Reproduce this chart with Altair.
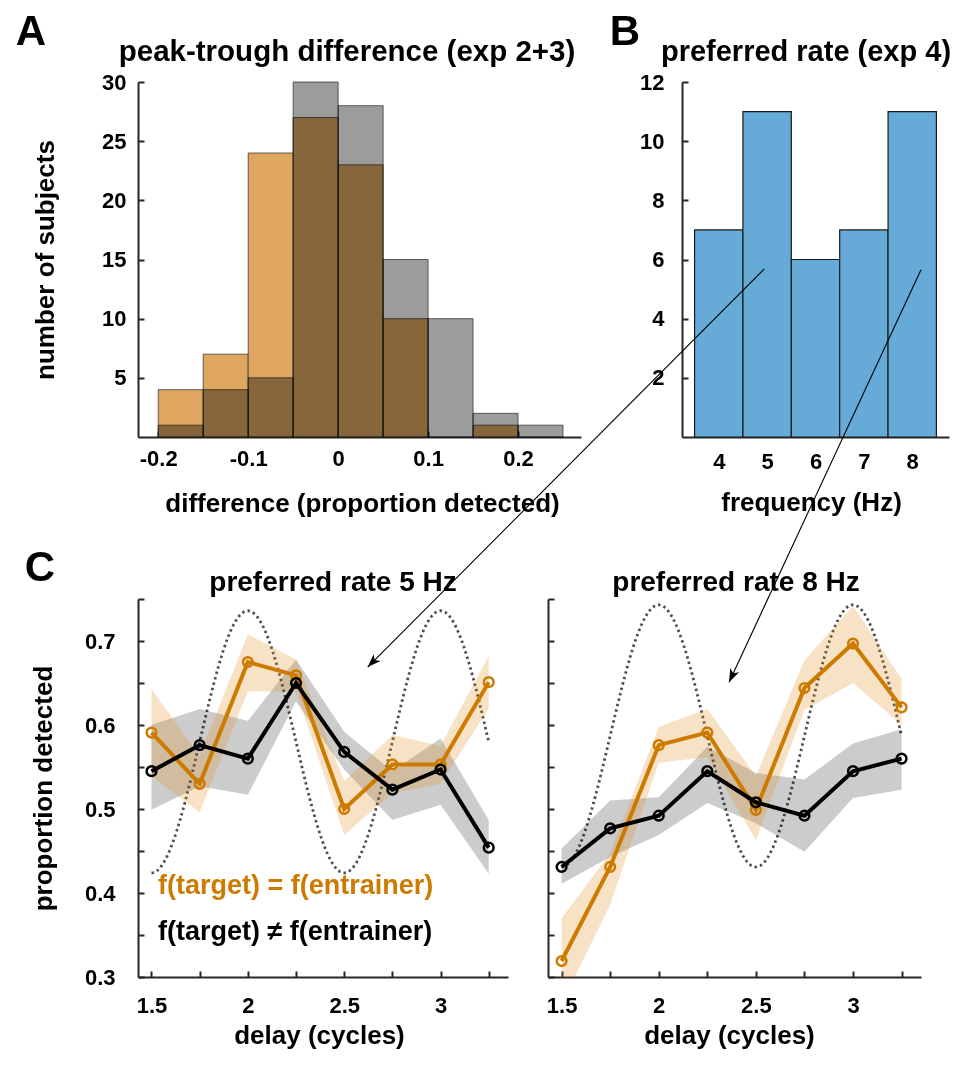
import altair as alt
import pandas as pd

FONT = "Liberation Sans"
AX = "#262626"
ORANGE = "#CC7A00"

# ---------------- Panel A: peak-trough difference (bins of 0.05) ----------------
a_bin_lo = [-0.20, -0.15, -0.10, -0.05, 0.00, 0.05, 0.10, 0.15, 0.20]
a_bin_hi = [-0.15, -0.10, -0.05, 0.00, 0.05, 0.10, 0.15, 0.20, 0.25]
a_count_same = [4, 7, 24, 27, 23, 10, 0, 1, 0]
a_count_other = [1, 4, 5, 30, 28, 15, 10, 2, 1]

# ---------------- Panel B: preferred rate ----------------
b_freq = [4, 5, 6, 7, 8]
b_count = [7, 11, 6, 7, 11]

# ---------------- Panel C: proportion detected vs delay ----------------
c_delay = [1.5, 1.75, 2.0, 2.25, 2.5, 2.75, 3.0, 3.25]

c5_same = [0.591, 0.530, 0.675, 0.659, 0.500, 0.553, 0.553, 0.651]
c5_same_lo = [0.539, 0.496, 0.640, 0.640, 0.469, 0.519, 0.530, 0.620]
c5_same_hi = [0.643, 0.563, 0.708, 0.678, 0.533, 0.588, 0.575, 0.682]
c5_diff = [0.545, 0.576, 0.560, 0.650, 0.568, 0.523, 0.547, 0.454]
c5_diff_lo = [0.499, 0.527, 0.517, 0.628, 0.547, 0.487, 0.505, 0.423]
c5_diff_hi = [0.600, 0.619, 0.605, 0.678, 0.592, 0.545, 0.584, 0.487]

c8_same = [0.319, 0.431, 0.576, 0.591, 0.499, 0.644, 0.697, 0.621]
c8_same_lo = [0.268, 0.386, 0.555, 0.562, 0.463, 0.618, 0.650, 0.600]
c8_same_hi = [0.370, 0.447, 0.598, 0.619, 0.539, 0.677, 0.742, 0.655]
c8_diff = [0.431, 0.477, 0.492, 0.545, 0.508, 0.492, 0.545, 0.560]
c8_diff_lo = [0.411, 0.443, 0.469, 0.507, 0.483, 0.449, 0.513, 0.523]
c8_diff_hi = [0.453, 0.510, 0.514, 0.574, 0.543, 0.535, 0.578, 0.595]

# reference oscillation (dotted), one cycle per unit delay, trough at 1.5
c5_osc_mid, c5_osc_amp = 0.580, 0.156
c8_osc_mid, c8_osc_amp = 0.587, 0.156

# arrows from panel B bars (5 Hz, 8 Hz) into panel C (in panel C data units)
arrow5 = dict(x0=4.680, y0=1.143, x1=2.622, y1=0.669)
arrow8 = dict(x0=3.350, y0=1.142, x1=2.362, y1=0.651)

c_xticks = [1.5, 1.75, 2.0, 2.25, 2.5, 2.75, 3.0, 3.25]
c_yticks = [0.3, 0.35, 0.4, 0.45, 0.5, 0.55, 0.6, 0.65, 0.7, 0.75]

# ---------------- helpers ----------------
def axis(**kw):
    d = dict(
        domainColor=AX, domainWidth=2, tickColor=AX, tickWidth=2,
        tickSize=alt.ExprRef(expr="-6"),
        labelFont=FONT, labelFontSize=22, labelFontWeight="bold", labelColor="black",
        labelFlush=False, labelOverlap=False,
        titleFont=FONT, titleFontSize=26, titleFontWeight="bold", titleColor="black",
        grid=False,
    )
    d.update(kw)
    return alt.Axis(**d)


def text_layer(text, x, y, size, color="black", align="center"):
    return alt.Chart(pd.DataFrame({"t": [text]})).mark_text(
        font=FONT, fontSize=size, fontWeight="bold", color=color,
        align=align, baseline="alphabetic"
    ).encode(x=alt.value(x), y=alt.value(y), text="t:N")


# ---------------- Panel A ----------------
A_W, A_H = 443, 355
dfA = pd.DataFrame({"lo": a_bin_lo, "hi": a_bin_hi,
                    "same": a_count_same, "other": a_count_other})
xA_s = alt.Scale(domain=[-0.2225, 0.27], nice=False, zero=False)
yA_s = alt.Scale(domain=[0, 30], nice=False)
xA_ax = axis(values=[-0.2, -0.1, 0, 0.1, 0.2], labelPadding=17,
             labelExpr="datum.value < 0 ? '-' + format(-datum.value, '~g') : format(datum.value, '~g')",
             titleX=224, titleY=74, titleBaseline="alphabetic")
yA_ax = axis(values=[5, 10, 15, 20, 25, 30], labelPadding=18,
             titleX=-80, titleY=A_H / 2)
XA_T = "difference (proportion detected)"
YA_T = "number of subjects"

barsA_same = alt.Chart(dfA).transform_filter("datum.same > 0").mark_bar(
    fill="#DEA660", stroke="#333333", strokeWidth=1, strokeOpacity=0.75
).encode(
    x=alt.X("lo:Q", scale=xA_s, axis=xA_ax, title=XA_T),
    x2="hi:Q",
    y=alt.Y("same:Q", scale=yA_s, axis=yA_ax, title=YA_T),
    y2=alt.datum(0),
)
barsA_other = alt.Chart(dfA).transform_filter("datum.other > 0").mark_bar(
    fill="#9C9C9C", stroke="#333333", strokeWidth=1, strokeOpacity=0.75,
    blend="multiply"
).encode(
    x=alt.X("lo:Q", scale=xA_s, axis=xA_ax, title=XA_T),
    x2="hi:Q",
    y=alt.Y("other:Q", scale=yA_s, axis=yA_ax, title=YA_T),
    y2=alt.datum(0),
)
panelA = alt.layer(
    barsA_same, barsA_other,
    text_layer("peak-trough difference (exp 2+3)", 209, -21, 29.5),
    text_layer("A", -107, -37, 42),
).properties(width=A_W, height=A_H)

# ---------------- Panel B ----------------
B_W, B_H = 267, 355
dfB = pd.DataFrame({"freq": b_freq, "n": b_count})
xB_s = alt.Scale(domain=[3.24, 8.76], nice=False, zero=False)
yB_s = alt.Scale(domain=[0, 12], nice=False)
xB_ax = axis(values=b_freq, labelPadding=20, titleX=129, titleY=73,
             titleBaseline="alphabetic")
yB_ax = axis(values=[2, 4, 6, 8, 10, 12], labelPadding=24)
barsB = alt.Chart(dfB).transform_calculate(
    lo="datum.freq - 0.5", hi="datum.freq + 0.5"
).mark_bar(fill="#66AAD7", stroke="#1a1a1a", strokeWidth=1.2).encode(
    x=alt.X("lo:Q", scale=xB_s, axis=xB_ax, title="frequency (Hz)"),
    x2="hi:Q",
    y=alt.Y("n:Q", scale=yB_s, axis=yB_ax, title=None),
    y2=alt.datum(0),
)
panelB = alt.layer(
    barsB,
    text_layer("preferred rate (exp 4)", 124, -21, 29),
    text_layer("B", -57, -37, 42),
).properties(width=B_W, height=B_H)

# ---------------- Panel C ----------------
C_H = 378
C_XDOM = [1.43, 3.35]
ARROW_PATH = "M0,0L-0.42,1.15L0,0.85L0.42,1.15Z"


def panel_c(width, same, same_lo, same_hi, diff, diff_lo, diff_hi,
            osc_mid, osc_amp, title, title_x, arrow, arrow_angle, left=True):
    df = pd.DataFrame({"delay": c_delay, "same": same, "same_lo": same_lo,
                       "same_hi": same_hi, "diff": diff, "diff_lo": diff_lo,
                       "diff_hi": diff_hi})
    xs = alt.Scale(domain=C_XDOM, nice=False, zero=False)
    ys = alt.Scale(domain=[0.3, 0.75], nice=False, zero=False)
    xax = axis(values=c_xticks, labelPadding=24,
               labelExpr="round(datum.value * 4) % 2 == 0 ? format(datum.value, '~g') : ''",
               titleX=181, titleY=66, titleBaseline="alphabetic")
    if left:
        yax = axis(values=c_yticks, labelPadding=29,
                   labelExpr="round(datum.value * 100) % 10 == 0 ? format(datum.value, '.1f') : ''",
                   titleX=-82, titleY=C_H / 2)
        ytitle = "proportion detected"
    else:
        yax = axis(values=c_yticks, labels=False)
        ytitle = None
    XT = "delay (cycles)"

    def X(f):
        return alt.X(f"{f}:Q", scale=xs, axis=xax, title=XT)

    def Y(f):
        return alt.Y(f"{f}:Q", scale=ys, axis=yax, title=ytitle)

    base = alt.Chart(df)
    osc = alt.Chart(alt.sequence(1.5, 3.2501, 0.005, as_="d")).transform_calculate(
        osc=f"{osc_mid} - {osc_amp} * cos(2 * PI * (datum.d - 1.5))"
    ).mark_line(color="#4d4d4d", strokeWidth=2.8, strokeDash=[2.4, 3.2]).encode(
        x=X("d"), y=Y("osc"))
    band_diff = base.mark_area(color="#000000", opacity=0.2, clip=True).encode(
        x=X("delay"), y=Y("diff_lo"), y2="diff_hi:Q")
    band_same = base.mark_area(color="#DE8A1C", opacity=0.25, clip=True).encode(
        x=X("delay"), y=Y("same_lo"), y2="same_hi:Q")
    line_same = base.mark_line(color=ORANGE, strokeWidth=4).encode(
        x=X("delay"), y=Y("same"))
    pts_same = base.mark_point(color=ORANGE, filled=False, size=95, strokeWidth=2.5,
                               opacity=1).encode(x=X("delay"), y=Y("same"))
    line_diff = base.mark_line(color="black", strokeWidth=4).encode(
        x=X("delay"), y=Y("diff"))
    pts_diff = base.mark_point(color="black", filled=False, size=95, strokeWidth=2.5,
                               opacity=1).encode(x=X("delay"), y=Y("diff"))
    adf = pd.DataFrame({k: [v] for k, v in arrow.items()})
    arr_line = alt.Chart(adf).mark_rule(color="black", strokeWidth=1.1).encode(
        x=X("x0"), y=Y("y0"), x2="x1:Q", y2="y1:Q")
    arr_head = alt.Chart(adf).mark_point(
        shape=ARROW_PATH, filled=True, color="black", size=530, angle=arrow_angle,
        opacity=1, strokeWidth=0
    ).encode(x=X("x1"), y=Y("y1"))

    layers = [osc, band_diff, band_same, line_same, pts_same, line_diff, pts_diff,
              text_layer(title, title_x, -8, 28)]
    if left:
        layers += [
            text_layer("f(target) = f(entrainer)", 20, 295, 27, color=ORANGE, align="left"),
            text_layer("f(target) \u2260 f(entrainer)", 20, 341, 27, align="left"),
            text_layer("C", -98, -18, 42),
        ]
    layers += [arr_line, arr_head]
    return alt.layer(*layers).properties(width=width, height=C_H)


panelC1 = panel_c(370, c5_same, c5_same_lo, c5_same_hi, c5_diff, c5_diff_lo,
                  c5_diff_hi, c5_osc_mid, c5_osc_amp, "preferred rate 5 Hz", 195,
                  arrow5, 225, left=True)
panelC2 = panel_c(373, c8_same, c8_same_lo, c8_same_hi, c8_diff, c8_diff_lo,
                  c8_diff_hi, c8_osc_mid, c8_osc_amp, "preferred rate 8 Hz", 188,
                  arrow8, 205, left=False)

row1 = alt.hconcat(panelA, panelB, spacing=101, bounds="flush")
row2 = alt.hconcat(panelC1, panelC2, spacing=40, bounds="flush")

chart = alt.vconcat(row1, row2, spacing=517, bounds="flush").properties(
    padding={"left": 7, "top": 3, "right": 2, "bottom": 2},
    background="white",
).configure_view(strokeWidth=0)

chart.save("out.html", embed_options={"renderer": "svg", "actions": False})
